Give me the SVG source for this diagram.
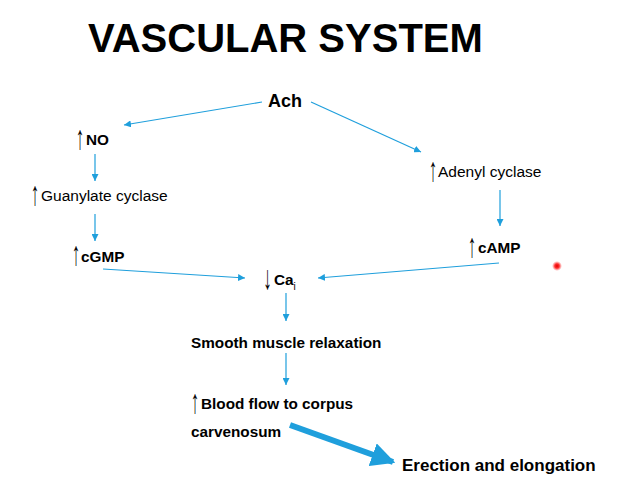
<svg xmlns="http://www.w3.org/2000/svg" width="633" height="489" viewBox="0 0 633 489">
<style>
text{font-family:"Liberation Sans",Arial,sans-serif;fill:#000}
.b{font-weight:bold;font-size:15.3px}
.r{font-size:15.5px}
.ar{font-size:34px;text-anchor:middle;opacity:0.99}
.c{stroke:#1f9fdc;stroke-width:1.2;fill:none}
</style>
<defs>
<marker id="ah" viewBox="0 0 10 10" refX="10" refY="5" markerWidth="7" markerHeight="7" markerUnits="userSpaceOnUse" orient="auto"><path d="M0,0L10,5L0,10z" fill="#1f9fdc"/></marker>
<marker id="big" viewBox="0 0 10 10" refX="9" refY="5" markerWidth="4" markerHeight="4" orient="auto"><path d="M0,0L10,5L0,10z" fill="#1f9fdc"/></marker>
<radialGradient id="rg"><stop offset="0" stop-color="#e00000"/><stop offset="0.45" stop-color="#ff3030"/><stop offset="1" stop-color="#ff6060" stop-opacity="0"/></radialGradient>
</defs>
<text id="title" x="88" y="52" style="font-size:40px;font-weight:bold">VASCULAR SYSTEM</text>
<g id="connectors">
<line class="c" x1="262" y1="102" x2="124" y2="125" marker-end="url(#ah)"/>
<line class="c" x1="311" y1="102" x2="421" y2="152" marker-end="url(#ah)"/>
<line class="c" x1="95" y1="154" x2="95" y2="181" marker-end="url(#ah)"/>
<line class="c" x1="95" y1="214" x2="95" y2="241" marker-end="url(#ah)"/>
<line class="c" x1="103" y1="269" x2="245" y2="278" marker-end="url(#ah)"/>
<line class="c" x1="500" y1="190" x2="500" y2="226" marker-end="url(#ah)"/>
<line class="c" x1="499" y1="263" x2="318" y2="278" marker-end="url(#ah)"/>
<line class="c" x1="286" y1="293" x2="286" y2="321" marker-end="url(#ah)"/>
<line class="c" x1="286" y1="353" x2="286" y2="385" marker-end="url(#ah)"/>
<line x1="290" y1="425" x2="393" y2="462" stroke="#1f9fdc" stroke-width="6" marker-end="url(#big)"/>
</g>
<g id="ach"><text class="b" x="268" y="107" style="font-size:18px">Ach</text></g>
<g id="no"><text class="ar" transform="translate(80,149) scale(0.5,1)">↑</text><text class="b" x="86" y="145">NO</text></g>
<g id="guanylate"><text class="ar" transform="translate(35,205) scale(0.5,1)">↑</text><text class="r" x="41" y="201">Guanylate cyclase</text></g>
<g id="cgmp"><text class="ar" transform="translate(76,265) scale(0.5,1)">↑</text><text class="b" x="81" y="262">cGMP</text></g>
<g id="adenyl"><text class="ar" transform="translate(433,181) scale(0.5,1)">↑</text><text class="r" x="438" y="177">Adenyl cyclase</text></g>
<g id="camp"><text class="ar" transform="translate(472,257) scale(0.5,1)">↑</text><text class="b" x="478" y="253">cAMP</text></g>
<g id="ca"><text class="ar" transform="translate(267.5,289) scale(0.5,1)">↓</text><text class="b" x="274" y="285">Ca<tspan style="font-size:10px;font-weight:normal" dy="5">i</tspan></text></g>
<g id="smooth"><text class="b" x="191" y="348">Smooth muscle relaxation</text></g>
<g id="blood"><text class="ar" transform="translate(195,413) scale(0.5,1)">↑</text><text class="b" x="201" y="409">Blood flow to corpus</text><text class="b" x="191" y="437">carvenosum</text></g>
<g id="erection"><text class="b" x="402" y="471" style="font-size:17px">Erection and elongation</text></g>
<circle cx="557" cy="266" r="5" fill="url(#rg)"/>
</svg>
